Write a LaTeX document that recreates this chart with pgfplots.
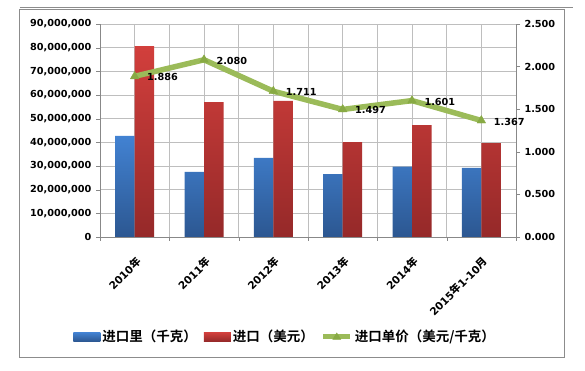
\documentclass[border=0pt]{standalone}
\usepackage{fontspec}
\setmainfont{DejaVu Sans}
\newfontfamily\cjk{Noto Sans CJK SC Bold}
\usepackage{pgfplots}
\pgfplotsset{compat=1.18}
\definecolor{bluetop}{HTML}{4282D2}
\definecolor{bluebot}{HTML}{2C5791}
\definecolor{redtop}{HTML}{D23F3C}
\definecolor{redbot}{HTML}{952929}
\definecolor{linegreen}{HTML}{9BBB59}
\definecolor{markgreen}{HTML}{88AA44}
\definecolor{gridgray}{HTML}{BEBEBE}
\definecolor{axisgray}{HTML}{888888}
\definecolor{framegray}{HTML}{8C8C8C}
\begin{document}
\begin{tikzpicture}
\begin{axis}[
  at={(100pt,134pt)}, anchor=south west, scale only axis,
  width=416pt, height=213pt,
  xmin=-0.5, xmax=5.5, ymin=0, ymax=90000000,
  ytick={0,10000000,20000000,30000000,40000000,50000000,60000000,70000000,80000000,90000000},
  scaled y ticks=false,
  yticklabel style={xshift=-1pt, /pgf/number format/.cd, fixed, precision=0, 1000 sep={,}},
  /pgf/number format/assume math mode=true,
  ticklabel style={font=\bfseries\fontsize{9.7}{11}\selectfont},
  axis y line*=left, axis x line*=bottom,
  axis line style={draw=axisgray, line width=0.8pt},
  xtick={0,...,5},
  xticklabels={2010{\cjk 年},2011{\cjk 年},2012{\cjk 年},2013{\cjk 年},2014{\cjk 年},2015{\cjk 年}1-10{\cjk 月}},
  major x tick style={draw=none},
  minor xtick={-0.5,0.5,...,5.5},
  minor x tick style={draw=axisgray},
  major y tick style={draw=axisgray},
  xmajorgrids, xminorgrids, ymajorgrids,
  grid style={gridgray, line width=0.6pt},
  tick align=outside,
  major tick length=4pt, minor tick length=4pt,
  xticklabel style={rotate=45, anchor=north east, inner sep=1pt, yshift=-10pt, xshift=-9pt, font=\bfseries\fontsize{10.5}{12}\selectfont},
  ybar=0pt, bar width=19.5pt,
  legend columns=3,
  legend style={at={(0.445,-0.469)}, anchor=center, draw=none, fill=none,
    font=\cjk\fontsize{13.5}{15}\selectfont,
    /tikz/every odd column/.append style={column sep=0pt},
    /tikz/every even column/.append style={column sep=5pt}},
  legend cell align=left,
]
\addplot[draw=none, top color=bluetop, bottom color=bluebot,
  legend image code/.code={\shade[top color=bluetop, bottom color=bluebot] (0pt,-4.5pt) rectangle (27pt,4.5pt);}]
  coordinates {(0,42700000) (1,27500000) (2,33400000) (3,26600000) (4,29700000) (5,29200000)};
\addlegendentry{进口里（千克）}
\addplot[draw=none, top color=redtop, bottom color=redbot,
  legend image code/.code={\shade[top color=redtop, bottom color=redbot] (0pt,-4.5pt) rectangle (27pt,4.5pt);}]
  coordinates {(0,80700000) (1,57000000) (2,57500000) (3,40100000) (4,47300000) (5,39700000)};
\addlegendentry{进口（美元）}
\addlegendimage{legend image code/.code={
  \draw[linegreen, line width=5pt] (0pt,0pt) -- (27pt,0pt);
  \fill[markgreen] (9.5pt,-2.5pt) -- (17.5pt,-2.5pt) -- (13.5pt,4pt) -- cycle;}}
\addlegendentry{进口单价（美元/千克）}
\end{axis}
\begin{axis}[
  at={(100pt,134pt)}, anchor=south west, scale only axis,
  width=416pt, height=213pt,
  xmin=-0.5, xmax=5.5, ymin=0, ymax=2.5,
  axis y line*=right, axis x line=none,
  ytick={0,0.5,1,1.5,2,2.5},
  yticklabel style={xshift=1pt, /pgf/number format/.cd, fixed, fixed zerofill, precision=3},
  /pgf/number format/assume math mode=true,
  ticklabel style={font=\bfseries\fontsize{9.7}{11}\selectfont},
  axis line style={draw=axisgray, line width=0.8pt},
  major y tick style={draw=axisgray},
  tick align=outside, major tick length=4pt,
  clip=false,
]
\addplot[linegreen, line width=5.5pt, line join=round,
  mark=triangle*, mark size=5pt, mark options={fill=markgreen, draw=markgreen, line width=0.4pt},
  nodes near coords, point meta=explicit symbolic,
  nodes near coords style={anchor=west, xshift=9pt, yshift=-1pt, text=black, font=\bfseries\fontsize{9.7}{11}\selectfont}]
  coordinates {(0,1.886)[1.886] (1,2.080)[2.080] (2,1.711)[1.711] (3,1.497)[1.497] (4,1.601)[1.601] (5,1.367)[1.367]};
\end{axis}
\draw[framegray, line width=0.8pt] (19.5pt,14pt) rectangle (564pt,361.7pt);
\draw[framegray, line width=0.8pt] (19.5pt,364pt) -- (573pt,364pt);
\pgfresetboundingbox
\path (0pt,0pt) rectangle (585pt,371pt);
\end{tikzpicture}
\end{document}
